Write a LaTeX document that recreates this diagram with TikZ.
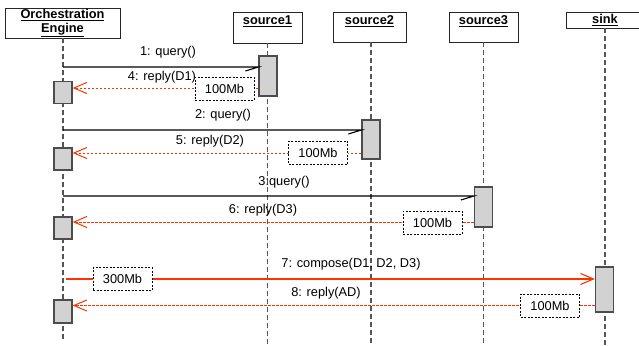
\documentclass[tikz,border=0pt]{standalone}
\usepackage{fontspec}
\setmainfont{Liberation Sans}
\usetikzlibrary{arrows.meta}
\definecolor{msgred}{RGB}{255,51,0}
\definecolor{actgray}{RGB}{210,210,210}
\definecolor{linegray}{RGB}{85,85,85}
\begin{document}
\begin{tikzpicture}[x=1pt,y=-1pt,
  font=\fontsize{12.8}{15}\selectfont,
  head/.style={draw=black!85, line width=0.9pt, fill=white, inner sep=0pt, align=center, font=\fontsize{12.8}{15}\selectfont\bfseries},
  life/.style={draw=linegray, line width=1.2pt, dash pattern=on 5pt off 3pt},
  act/.style={draw=black!70, line width=1.2pt, fill=actgray, minimum width=18pt, inner sep=0pt},
  call/.style={draw=black, line width=1.1pt},
  reply/.style={draw=msgred, line width=1pt, dash pattern=on 2.5pt off 1.5pt, -{Straight Barb[length=13pt,width=11pt,line width=1pt]}},
  send/.style={draw=msgred, line width=1.1pt, -{Straight Barb[length=13pt,width=11pt,line width=1.1pt]}},
  size/.style={draw=black, line width=0.9pt, dash pattern=on 2pt off 1.5pt, fill=white, minimum width=59pt, minimum height=23pt, inner sep=0pt},
  lbl/.style={inner sep=0pt}
]
\useasboundingbox (0,0) rectangle (639,345);
\clip (0,0) rectangle (639,345);

% headers
\node[head, minimum width=115pt, minimum height=30pt] (oe) at (62.5,23) {\underline{Orchestration}\\[-1pt]\underline{Engine}};
\node[head, minimum width=69pt, minimum height=31pt] (s1) at (267.5,27.5) {};
\node[font=\fontsize{12.8}{15}\selectfont\bfseries] at (267.5,21) {\underline{source1}};
\node[head, minimum width=73pt, minimum height=30pt] (s2) at (369.5,27) {};
\node[font=\fontsize{12.8}{15}\selectfont\bfseries] at (369.5,21) {\underline{source2}};
\node[head, minimum width=69pt, minimum height=30pt] (s3) at (483.5,27) {};
\node[font=\fontsize{12.8}{15}\selectfont\bfseries] at (483.5,21) {\underline{source3}};
\node[head, minimum width=78pt, minimum height=16pt] (sk) at (605,20) {\underline{sink}};

% lifelines
\coordinate (oeEnd) at (63,340);
\coordinate (s1End) at (267.5,345);
\coordinate (s2End) at (371,345);
\coordinate (s3End) at (483.5,345);
\coordinate (skEnd) at (605,345);
\draw[life] (oe.south -| oeEnd) -- (oeEnd);
\draw[life] (s1.south -| s1End) -- (s1End);
\draw[life] (s2.south -| s2End) -- (s2End);
\draw[life] (s3.south -| s3End) -- (s3End);
\draw[life] (sk.south -| skEnd) -- (skEnd);

% activations
\node[act, minimum height=40pt] (a1) at (268,76) {};
\node[act, minimum height=22pt] (o1) at (63,92.5) {};
\node[act, minimum height=39pt] (a2) at (371,139.5) {};
\node[act, minimum height=22pt] (o2) at (63,159) {};
\node[act, minimum height=40pt] (a3) at (483.5,207) {};
\node[act, minimum height=22pt] (o3) at (63,228) {};
\node[act, minimum height=45pt] (a4) at (604.5,289.5) {};
\node[act, minimum height=23pt] (o4) at (63,311.5) {};

% 1: query
\coordinate (q1) at (63,67);
\draw[call] (q1) -- (q1 -| a1.west) -- ++(-13,4);
\node[lbl] (l1) at (168,52) {1: query()};
% 4: reply(D1)
\coordinate (r1) at (0,88);
\draw[reply] (a1.west |- r1) -- (o1.east |- r1);
\node[size] (b1) at (224.5,88.5) {100Mb};
\node[lbl] (l4) at (162,77) {4: reply(D1)};

% 2: query
\coordinate (q2) at (63,130);
\draw[call] (q2) -- (q2 -| a2.west) -- ++(-13,4);
\node[lbl] (l2) at (223,115) {2: query()};
% 5: reply(D2)
\coordinate (r2) at (0,153);
\draw[reply] (a2.west |- r2) -- (o2.east |- r2);
\node[size] (b2) at (318,152.5) {100Mb};
\node[lbl] (l5) at (210,141) {5: reply(D2)};

% 3: query
\coordinate (q3) at (63,196);
\draw[call] (q3) -- (q3 -| a3.west) -- ++(-13,4);
\node[lbl] (l3) at (284,182) {3:query()};
% 6: reply(D3)
\coordinate (r3) at (0,222);
\draw[reply] (a3.west |- r3) -- (o3.east |- r3);
\node[size] (b3) at (432.5,222.5) {100Mb};
\node[lbl] (l6) at (263,210) {6: reply(D3)};

% 7: compose
\coordinate (q4) at (66,279);
\draw[send] (q4) -- (q4 -| a4.west);
\node[size] (b4) at (122.5,279) {300Mb};
\node[lbl] (l7) at (351,264) {7: compose(D1, D2, D3)};
% 8: reply(AD)
\coordinate (r4) at (0,305.5);
\draw[reply] (a4.west |- r4) -- (o4.east |- r4);
\node[size] (b5) at (550,305.5) {100Mb};
\node[lbl] (l8) at (326,293) {8: reply(AD)};
\end{tikzpicture}
\end{document}
